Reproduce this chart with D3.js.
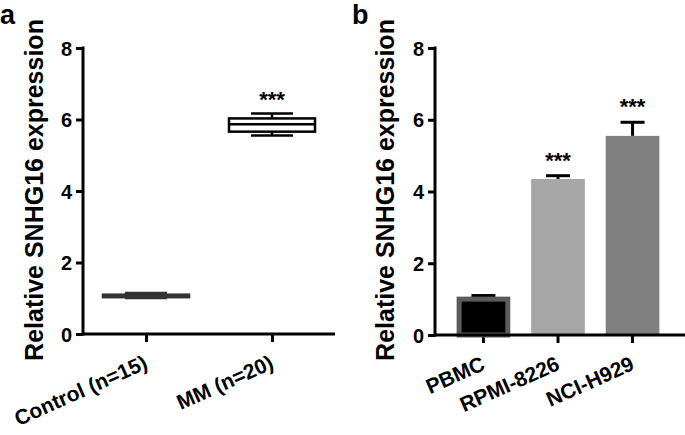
<!DOCTYPE html>
<html><head><meta charset="utf-8">
<script src="https://cdn.jsdelivr.net/npm/d3@7"></script>
<style>body{margin:0;background:#fff}svg{display:block}text{font-family:"Liberation Sans",Arial,sans-serif;font-weight:bold}</style>
</head><body>
<svg id="c" width="685" height="435"></svg>
<script>
// Panel a: box plot
const boxCategories = ["Control (n=15)", "MM (n=20)"];
const boxMin = [1.01, 5.55];
const boxQ1 = [1.03, 5.66];
const boxMedian = [1.07, 5.87];
const boxQ3 = [1.10, 6.03];
const boxMax = [1.15, 6.17];
const boxColors = ["#333333", "#000000"];
const boxSig = ["", "***"];
// Panel b: bar chart
const barCategories = ["PBMC", "RPMI-8226", "NCI-H929"];
const barValues = [1.0, 4.35, 5.55];
const barErrors = [0.1, 0.09, 0.38];
const barColors = ["#000000", "#a6a6a6", "#808080"];
const barSig = ["", "***", "***"];
const yTicks = [0, 2, 4, 6, 8];
const yTitle = "Relative SNHG16 expression";

const svg = d3.select("#c");

function yAxis(g, y, x0) {
  const ax = g.append("g").attr("transform", `translate(${x0},0)`)
    .call(d3.axisLeft(y).tickValues(yTicks).tickSize(7).tickPadding(4).tickFormat(d3.format("d")));
  ax.select(".domain").remove();
  ax.selectAll(".tick line").attr("stroke", "#000").attr("stroke-width", 3);
  ax.selectAll(".tick text").attr("font-size", 20).attr("fill", "#000").attr("dy", "0.36em");
  g.append("line").attr("x1", x0).attr("x2", x0).attr("y1", y(8) - 1.5).attr("y2", y(0) + 1.5)
    .attr("stroke", "#000").attr("stroke-width", 3);
}

function catLabel(g, cx, y0, text) {
  g.append("text").attr("transform", `translate(${cx + 3},${y0 + 34}) rotate(-24)`)
    .attr("text-anchor", "end").attr("font-size", 21).text(text);
}

// ---- Panel a ----
{
  const g = svg.append("g");
  const y = d3.scaleLinear().domain([0, 8]).range([334, 48]);
  const x = d3.scalePoint().domain(boxCategories).range([83, 335]).padding(0.5);
  const xa = g.append("g").attr("transform", `translate(0,${y(0)})`)
    .call(d3.axisBottom(x).tickSize(8).tickFormat(""));
  xa.select(".domain").remove();
  xa.selectAll(".tick line").attr("stroke", "#000").attr("stroke-width", 3);
  g.append("line").attr("x1", 83).attr("x2", 335).attr("y1", y(0)).attr("y2", y(0))
    .attr("stroke", "#000").attr("stroke-width", 3);
  yAxis(g, y, 83);
  boxCategories.forEach((c, i) => {
    const cx = x(c), bw = 86, cw = 42, col = boxColors[i];
    const b = g.append("g").attr("stroke", col).attr("stroke-width", 2.5).attr("fill", "none");
    b.append("line").attr("x1", cx).attr("x2", cx).attr("y1", y(boxMax[i])).attr("y2", y(boxQ3[i]));
    b.append("line").attr("x1", cx).attr("x2", cx).attr("y1", y(boxQ1[i])).attr("y2", y(boxMin[i]));
    b.append("line").attr("x1", cx - cw / 2).attr("x2", cx + cw / 2).attr("y1", y(boxMax[i])).attr("y2", y(boxMax[i]));
    b.append("line").attr("x1", cx - cw / 2).attr("x2", cx + cw / 2).attr("y1", y(boxMin[i])).attr("y2", y(boxMin[i]));
    b.append("rect").attr("x", cx - bw / 2).attr("width", bw).attr("y", y(boxQ3[i]))
      .attr("height", y(boxQ1[i]) - y(boxQ3[i])).attr("fill", i === 0 ? col : "#fff");
    b.append("line").attr("x1", cx - bw / 2).attr("x2", cx + bw / 2).attr("y1", y(boxMedian[i])).attr("y2", y(boxMedian[i]));
    if (boxSig[i]) g.append("text").attr("x", cx).attr("y", y(boxMax[i]) - 6).attr("text-anchor", "middle")
      .attr("font-size", 22).text(boxSig[i]);
    catLabel(g, cx, y(0), c);
  });
  g.append("text").attr("transform", `translate(43,190) rotate(-90)`).attr("text-anchor", "middle")
    .attr("font-size", 25).text(yTitle);
  g.append("text").attr("x", 0).attr("y", 24).attr("font-size", 27).text("a");
}

// ---- Panel b ----
{
  const g = svg.append("g");
  const y = d3.scaleLinear().domain([0, 8]).range([335, 48]);
  const x = d3.scaleBand().domain(barCategories).range([435, 681]).paddingInner(0.28).paddingOuter(0.29);
  const xa = g.append("g").attr("transform", `translate(0,${y(0)})`)
    .call(d3.axisBottom(x).tickSize(8).tickFormat(""));
  xa.select(".domain").remove();
  xa.selectAll(".tick line").attr("stroke", "#000").attr("stroke-width", 3);
  barCategories.forEach((c, i) => {
    const x0 = x(c), bw = x.bandwidth(), cx = x0 + bw / 2;
    const top = y(barValues[i] + barErrors[i]);
    g.append("line").attr("x1", cx).attr("x2", cx).attr("y1", top).attr("y2", y(barValues[i]))
      .attr("stroke", "#000").attr("stroke-width", 3);
    g.append("line").attr("x1", cx - 12).attr("x2", cx + 12).attr("y1", top).attr("y2", top)
      .attr("stroke", "#000").attr("stroke-width", 3);
    if (i === 0) {
      g.append("rect").attr("x", x0 + 2.5).attr("width", bw - 5).attr("y", y(barValues[i]))
        .attr("height", y(0) - y(barValues[i])).attr("fill", barColors[i])
        .attr("stroke", "#5c5c5c").attr("stroke-width", 5);
    } else {
      g.append("rect").attr("x", x0).attr("width", bw).attr("y", y(barValues[i]))
        .attr("height", y(0) - y(barValues[i])).attr("fill", barColors[i]);
    }
    if (barSig[i]) g.append("text").attr("x", cx).attr("y", top - 8).attr("text-anchor", "middle")
      .attr("font-size", 22).text(barSig[i]);
    catLabel(g, cx, y(0), c);
  });
  g.append("line").attr("x1", 435).attr("x2", 685).attr("y1", y(0)).attr("y2", y(0))
    .attr("stroke", "#000").attr("stroke-width", 3);
  yAxis(g, y, 435);
  g.append("text").attr("transform", `translate(394,190) rotate(-90)`).attr("text-anchor", "middle")
    .attr("font-size", 25).text(yTitle);
  g.append("text").attr("x", 352).attr("y", 24).attr("font-size", 27).text("b");
}
</script>
</body></html>
